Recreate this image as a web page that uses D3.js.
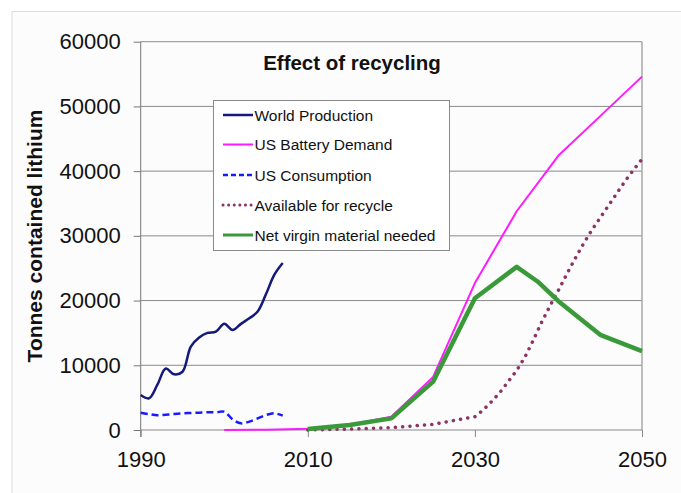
<!DOCTYPE html>
<html><head><meta charset="utf-8">
<script src="https://cdn.jsdelivr.net/npm/d3@7/dist/d3.min.js"></script>
<style>html,body{margin:0;padding:0;background:#fff;}svg{display:block;font-family:"Liberation Sans",Arial,sans-serif;}</style>
</head><body><svg id="c" width="681" height="493"></svg>
<script>
const xTicks = [1990, 2010, 2030, 2050];
const yTicks = [0, 10000, 20000, 30000, 40000, 50000, 60000];

const prodYears = [1990,1991,1992,1993,1994,1995,1996,1997,1998,1999,2000,2001,2002,2003,2004,2005,2006,2007];
const worldProduction = [5400,4900,7000,9500,8600,9000,12900,14300,15000,15200,16400,15450,16400,17250,18300,21000,24000,25800];
const usConsumption = [2680,2450,2270,2370,2470,2580,2630,2680,2730,2730,2830,1650,1030,1290,1800,2320,2580,2220];

const demandYears = [2000,2005,2010,2015,2020,2025,2030,2035,2040,2045,2050];
const usBatteryDemand = [0,50,200,800,2050,8200,22700,33800,42400,48500,54600];

const recycleYears = [2010,2015,2020,2025,2030,2031,2032,2033,2034,2035,2036,2037,2038,2039,2040,2041,2042,2043,2044,2045,2046,2047,2048,2049,2050];
const availableForRecycle = [0,150,360,880,2050,3100,4400,5800,7500,9200,11300,13900,16700,19200,21600,24100,26500,28800,30900,32800,34700,36600,38500,40200,41850];

const netYears = [2010,2015,2020,2025,2030,2035,2037.5,2040,2045,2050];
const netVirgin = [150,770,1800,7470,20350,25200,22950,19900,14700,12200];

const legendLabels = ["World Production","US Battery Demand","US Consumption","Available for recycle","Net virgin material needed"];

const svg = d3.select("#c");
// outer frame
svg.append("rect").attr("x",0).attr("y",0).attr("width",681).attr("height",493).attr("fill","#fff");
svg.append("rect").attr("x",12).attr("y",11.5).attr("width",700).attr("height",500).attr("fill","#fcfcfc").attr("stroke","#dcdcdc").attr("stroke-width",1);

const x = d3.scaleLinear().domain([1990,2050]).range([140.7,642]);
const y = d3.scaleLinear().domain([0,60000]).range([430,41.7]);

// gridlines
svg.append("g").selectAll("line").data(yTicks.filter(d=>d>0)).join("line")
  .attr("x1",x(1990)).attr("x2",x(2050)).attr("y1",d=>y(d)).attr("y2",d=>y(d))
  .attr("stroke","#8a8a8a").attr("stroke-width",1);
// right border
svg.append("line").attr("x1",x(2050)).attr("x2",x(2050)).attr("y1",y(60000)).attr("y2",y(0))
  .attr("stroke","#a8a8a8").attr("stroke-width",1.5);

// y axis
const yAxis = d3.axisLeft(y).tickValues(yTicks).tickSize(7).tickPadding(13).tickFormat(d3.format("d"));
const gy = svg.append("g").attr("transform",`translate(${x(1990)},0)`).call(yAxis);
gy.select(".domain").attr("stroke","#777").attr("d",`M0,${y(60000)}V${y(0)+7}`);
gy.selectAll(".tick line").attr("stroke","#777");
gy.selectAll("text").attr("font-size",22).attr("fill","#111").attr("font-family","Liberation Sans, Arial, sans-serif");

// x axis
const xAxis = d3.axisBottom(x).tickValues(xTicks).tickSize(7).tickPadding(14).tickFormat(d3.format("d"));
const gx = svg.append("g").attr("transform",`translate(0,${y(0)})`).call(xAxis);
gx.select(".domain").attr("stroke","#888").attr("d",`M${x(1990)},0H${x(2050)}`);
gx.selectAll(".tick line").attr("stroke","#888");
gx.selectAll("text").attr("font-size",22).attr("fill","#111").attr("font-family","Liberation Sans, Arial, sans-serif");

// y axis title
svg.append("text").attr("transform",`translate(42,236) rotate(-90)`).attr("text-anchor","middle")
  .attr("font-size",21).attr("font-weight","bold").attr("fill","#111").text("Tonnes contained lithium");

// title
svg.append("text").attr("x",352).attr("y",70).attr("text-anchor","middle")
  .attr("font-size",20.5).attr("font-weight","bold").attr("fill","#111").text("Effect of recycling");

const styles = [
  {color:"#14197a", w:2.5, dash:null, cap:"butt"},
  {color:"#ff1aff", w:2, dash:null, cap:"butt"},
  {color:"#1a1aff", w:2.5, dash:"7,4", cap:"butt"},
  {color:"#8c3565", w:3.5, dash:"0.1,7.2", cap:"round"},
  {color:"#3a9a3a", w:4.5, dash:null, cap:"butt"}
];

function draw(xs, vs, st, curve){
  const line = d3.line().x((d,i)=>x(xs[i])).y(d=>y(d)).curve(curve);
  svg.append("path").attr("d",line(vs)).attr("fill","none").attr("stroke",st.color)
    .attr("stroke-width",st.w).attr("stroke-dasharray",st.dash).attr("stroke-linecap",st.cap)
    .attr("stroke-linejoin","round");
}
draw(demandYears, usBatteryDemand, styles[1], d3.curveLinear);
draw(recycleYears, availableForRecycle, styles[3], d3.curveLinear);
draw(netYears, netVirgin, styles[4], d3.curveLinear);
draw(prodYears, usConsumption, styles[2], d3.curveCatmullRom.alpha(0.5));
draw(prodYears, worldProduction, styles[0], d3.curveCatmullRom.alpha(0.5));

// legend
const lg = svg.append("g");
lg.append("rect").attr("x",213.5).attr("y",100.5).attr("width",236).attr("height",150)
  .attr("fill","#fff").attr("stroke","#8a8a8a").attr("stroke-width",1);
const rowY = [115,144.5,175,205,235];
legendLabels.forEach((lab,i)=>{
  const st = styles[i];
  lg.append("line").attr("x1",223).attr("x2",253).attr("y1",rowY[i]).attr("y2",rowY[i])
    .attr("stroke",st.color).attr("stroke-width",Math.min(st.w,3)).attr("stroke-dasharray",st.dash?(i===3?"0.1,5.5":"5,3"):null)
    .attr("stroke-linecap",st.cap);
  lg.append("text").attr("x",254.5).attr("y",rowY[i]+5.5).attr("font-size",15.5).attr("fill","#111")
    .text(lab);
});
</script></body></html>
